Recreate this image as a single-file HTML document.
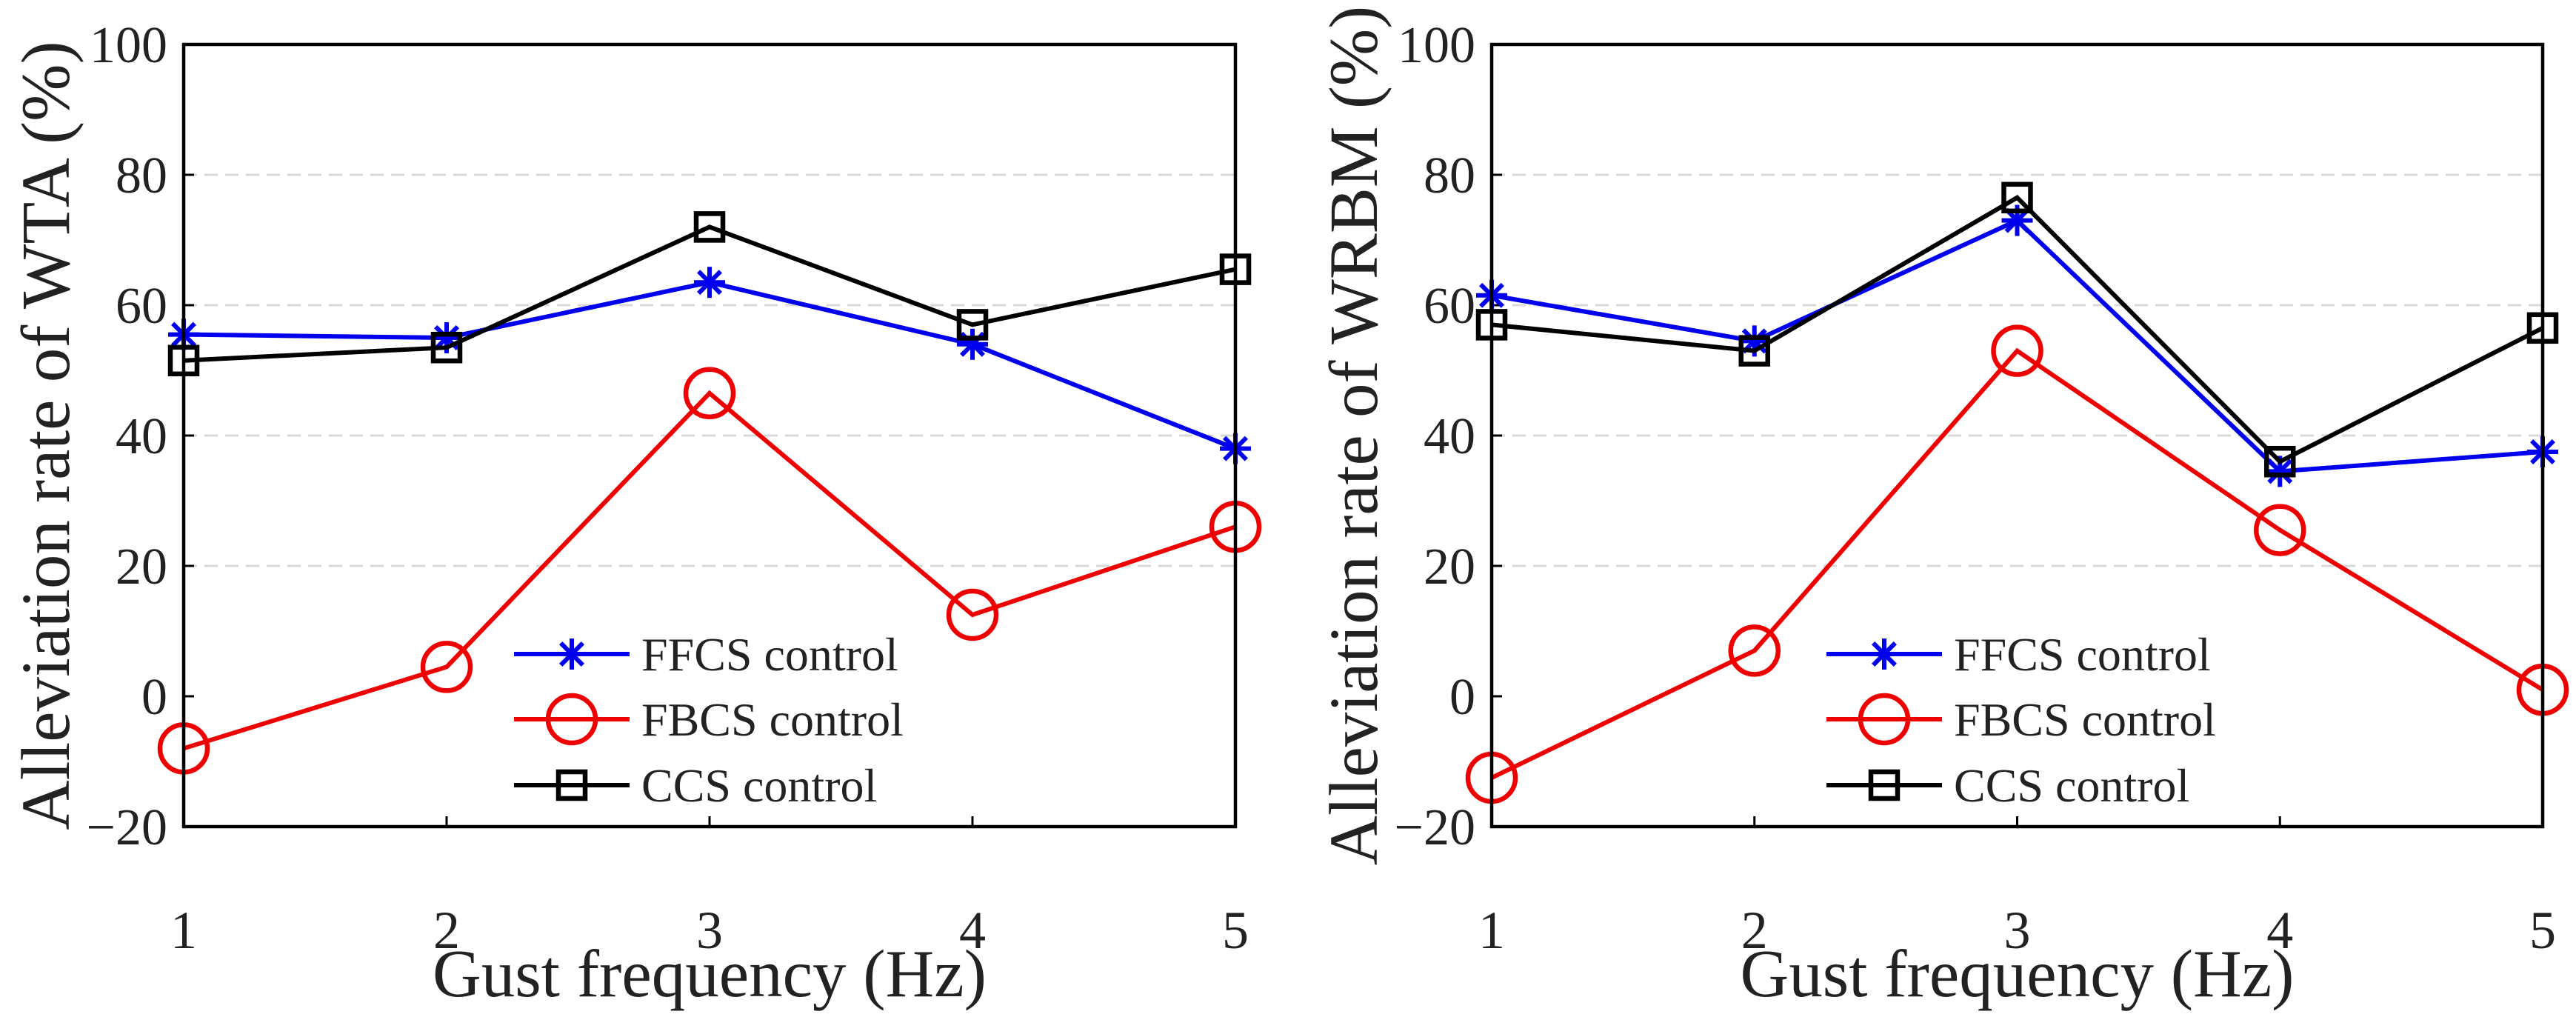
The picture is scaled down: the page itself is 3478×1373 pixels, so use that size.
<!DOCTYPE html>
<html><head><meta charset="utf-8"><style>
html,body{margin:0;padding:0;background:#fff;}
svg{display:block;font-family:"Liberation Serif",serif;}
</style></head><body>
<svg id="svg" width="3478" height="1373" viewBox="0 0 3478 1373" xmlns="http://www.w3.org/2000/svg"></svg>
<script>
const categories = [1, 2, 3, 4, 5];
const yTicks = [-20, 0, 20, 40, 60, 80, 100];
const gridVals = [20, 40, 60, 80];
const wtaFFCS = [55.5, 55, 63.5, 54, 38];
const wtaFBCS = [-8, 4.5, 46.5, 12.5, 26];
const wtaCCS = [51.5, 53.5, 72, 57, 65.5];
const wrbmFFCS = [61.5, 54.5, 73, 34.5, 37.5];
const wrbmFBCS = [-12.5, 7, 53, 25.5, 1];
const wrbmCCS = [57, 53, 76.5, 36, 56.5];
const seriesNames = ["FFCS control", "FBCS control", "CCS control"];

const NS = "http://www.w3.org/2000/svg";
const svg = document.getElementById('svg');
function mk(tag, attrs, parent) {
  const e = document.createElementNS(NS, tag);
  for (const k in attrs) e.setAttribute(k, attrs[k]);
  (parent || svg).appendChild(e);
  return e;
}
const colors = ["#0000ee", "#ee0000", "#000000"];

function marker(g, kind, x, y, c) {
  if (kind === 0) {
    const r = 21;
    for (let a = 0; a < 4; a++) {
      const t = a * Math.PI / 4;
      const l = mk('line', {x1: x - r*Math.cos(t), y1: y - r*Math.sin(t), x2: x + r*Math.cos(t), y2: y + r*Math.sin(t), stroke: c, 'stroke-width': 6}, g);
      
      
    }
  } else if (kind === 1) {
    const e = mk('circle', {cx: x, cy: y, r: 32, fill: 'none', stroke: c, 'stroke-width': 6.5}, g);
    
    
  } else {
    const e = mk('rect', {x: x - 18, y: y - 18, width: 36, height: 36, fill: 'none', stroke: c, 'stroke-width': 6.5}, g);
    
    
  }
}

function chart(prefix, L, R, T, B, ytitle, series, legX) {
  const xs = v => L + (v - 1) / 4 * (R - L);
  const ys = v => B - (v + 20) / 120 * (B - T);
  const g = mk('g', {});
  
  
  gridVals.forEach(v => {
    const l = mk('line', {x1: L, x2: R, y1: ys(v), y2: ys(v), stroke: '#d9d9d9', 'stroke-width': 3, 'stroke-dasharray': '18 10'}, g);
    
    
  });
  yTicks.forEach(v => {
    const t = mk('text', {x: L - 22, y: ys(v) + 24, 'text-anchor': 'end', 'font-size': 70, fill: '#222'}, g);
    t.textContent = v < 0 ? '\u2212' + (-v) : v;
    
    
    const tk = mk('line', {x1: L, x2: L + 14, y1: ys(v), y2: ys(v), stroke: '#000', 'stroke-width': 3}, g);
    
    
  });
  categories.forEach(v => {
    const t = mk('text', {x: xs(v), y: 1280, 'text-anchor': 'middle', 'font-size': 72, fill: '#222'}, g);
    t.textContent = v;
    
    
    const tk = mk('line', {x1: xs(v), x2: xs(v), y1: B, y2: B - 14, stroke: '#000', 'stroke-width': 3}, g);
    
    
  });
  series.forEach((s, i) => {
    const pts = s.map((v, j) => xs(categories[j]) + ',' + ys(v)).join(' ');
    const pl = mk('polyline', {points: pts, fill: 'none', stroke: colors[i], 'stroke-width': 6}, g);
    
    
    s.forEach((v, j) => marker(g, i, xs(categories[j]), ys(v), colors[i]));
  });
  const box = mk('rect', {x: L, y: T, width: R - L, height: B - T, fill: 'none', stroke: '#000', 'stroke-width': 4.5}, g);
  
  
  const rows = [883, 971, 1060];
  seriesNames.forEach((n, i) => {
    const lg = mk('g', {}, g);
    
    
    mk('line', {x1: legX, x2: legX + 156, y1: rows[i], y2: rows[i], stroke: colors[i], 'stroke-width': 6}, lg);
    marker(lg, i, legX + 78, rows[i], colors[i]);
    const t = mk('text', {x: legX + 172, y: rows[i] + 22, 'font-size': 64, fill: '#222'}, lg);
    t.textContent = n;
  });
  const xt = mk('text', {x: (L + R) / 2, y: 1345, 'text-anchor': 'middle', 'font-size': 91, fill: '#222'}, g);
  xt.textContent = 'Gust frequency (Hz)';
  
  
  const cx = L - 155, cy = (T + B) / 2;
  const yt = mk('text', {x: cx, y: cy, 'text-anchor': 'middle', 'font-size': 93, fill: '#222', transform: 'rotate(-90 ' + cx + ' ' + cy + ')'}, g);
  yt.textContent = ytitle;
  
  
}
chart('wta', 248, 1668, 60, 1116, 'Alleviation rate of WTA (%)', [wtaFFCS, wtaFBCS, wtaCCS], 694);
chart('wrbm', 2014, 3433, 60, 1116, 'Alleviation rate of WRBM (%)', [wrbmFFCS, wrbmFBCS, wrbmCCS], 2466);
</script>
</body></html>
